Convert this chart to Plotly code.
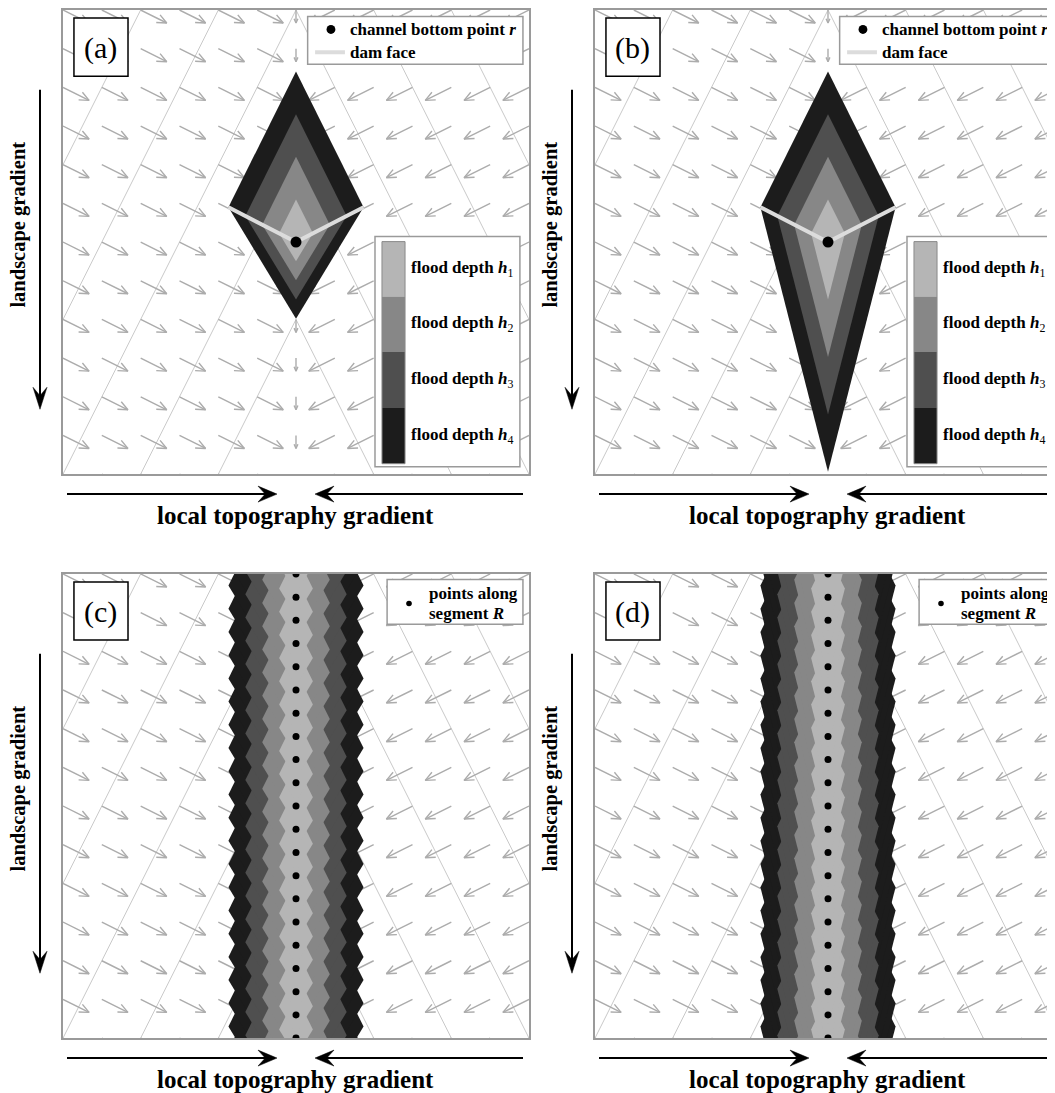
import math
import plotly.graph_objects as go

# ---------------- data (model units: each panel spans -1..1) ----------------
grid_ticks = [-1.0, -0.8333, -0.6667, -0.5, -0.3333, -0.1667, 0.0,
              0.1667, 0.3333, 0.5, 0.6667, 0.8333, 1.0]
flow_left = [0.112, -0.056]     # downhill vector west of the channel
flow_centre = [0.0, -0.056]     # downhill vector on the channel
flow_right = [-0.112, -0.056]   # downhill vector east of the channel
contour_levels = [-1.0, -0.3333, 0.3333, 1.0, 1.6667, 2.3333, 3.0]
contour_slope = 2.0

depth_names = ["1", "2", "3", "4"]
depth_scale = [0.25, 0.5, 0.75, 1.0]
depth_colors = ["#b5b5b5", "#878787", "#4f4f4f", "#1c1c1c"]

diamond_x = [0.0, 0.29, 0.0, -0.29]
diamond_y_a = [0.735, 0.15, -0.33, 0.15]
diamond_y_b = [0.735, 0.15, -0.99, 0.15]
dam_x = [-0.29, 0.0, 0.29]
dam_y = [0.15, 0.0, 0.15]
channel_point = [0.0, 0.0]
# points along segment R (the segment continues below the frame)
segment_R_y = [-1.5, -1.4, -1.3, -1.2, -1.1,
               -1.0, -0.9, -0.8, -0.7, -0.6, -0.5, -0.4, -0.3, -0.2, -0.1, 0.0,
               0.1, 0.2, 0.3, 0.4, 0.5, 0.6, 0.7, 0.8, 0.9, 1.0]
panel_letters = ["(a)", "(b)", "(c)", "(d)"]

# ---------------- layout constants (page pixels) ----------------
OFF = 8                      # default body margin of the html page
PAGE_W, PAGE_H = 1055, 1093
W, H = PAGE_W - OFF, PAGE_H - OFF
UNIT = 233.0
PANEL = 466
FONT = "Liberation Serif, Times New Roman, serif"
GRID_GREY = "#c9c9c9"
ARROW_GREY = "#acacac"
BORDER = "#9a9a9a"

panels = [
    dict(sfx="", left=63, top=8, kind="point", dy=diamond_y_a),
    dict(sfx="2", left=595, top=8, kind="point", dy=diamond_y_b),
    dict(sfx="3", left=63, top=573, kind="segment", dy=diamond_y_a),
    dict(sfx="4", left=595, top=573, kind="segment", dy=diamond_y_b),
]

fig = go.Figure()
shapes = []
annotations = []


def contour_xy():
    xs, ys = [], []
    for c in contour_levels:
        s_lo = max(0.0, (c - 1.0) / contour_slope)
        s_hi = min(1.0, (c + 1.0) / contour_slope)
        if s_hi - s_lo < 1e-6:
            continue
        if s_lo <= 0.0:
            xs += [-s_hi, 0.0, s_hi, None]
            ys += [c - contour_slope * s_hi, c, c - contour_slope * s_hi, None]
        else:
            for sg in (-1, 1):
                xs += [sg * s_lo, sg * s_hi, None]
                ys += [c - contour_slope * s_lo, c - contour_slope * s_hi, None]
    return xs, ys


def quiver_xy():
    xs, ys = [], []
    ang = math.radians(24)
    for gx in grid_ticks:
        for gy in grid_ticks:
            if gx < -1e-9:
                u, v = flow_left
            elif gx > 1e-9:
                u, v = flow_right
            else:
                u, v = flow_centre
            hx, hy = gx + u, gy + v
            L = math.hypot(u, v)
            dx, dy = u / L, v / L
            hl = 0.36 * L
            xs += [gx, hx, None]
            ys += [gy, hy, None]
            b = []
            for a in (ang, -ang):
                rx = dx * math.cos(a) - dy * math.sin(a)
                ry = dx * math.sin(a) + dy * math.cos(a)
                b.append((hx - hl * rx, hy - hl * ry))
            xs += [b[0][0], hx, b[1][0], None]
            ys += [b[0][1], hy, b[1][1], None]
    return xs, ys


cx, cy = contour_xy()
qx, qy = quiver_xy()


def ppx(px):
    return (px - OFF) / W


def ppy(py):
    return 1 - (py - OFF) / H


def gradient_arrow(tail, head, length, half):
    """Black line with a barbed head, as paper-referenced shapes (page px in)."""
    tx, ty = tail
    hx, hy = head
    L = math.hypot(hx - tx, hy - ty)
    dx, dy = (hx - tx) / L, (hy - ty) / L
    nx, ny = -dy, dx
    notch = (hx - 0.62 * length * dx, hy - 0.62 * length * dy)
    b1 = (hx - length * dx + half * nx, hy - length * dy + half * ny)
    b2 = (hx - length * dx - half * nx, hy - length * dy - half * ny)
    shapes.append(dict(type="line", xref="paper", yref="paper",
                       x0=ppx(tx), y0=ppy(ty), x1=ppx(notch[0] + 0.5 * dx), y1=ppy(notch[1] + 0.5 * dy),
                       line=dict(color="black", width=2)))
    pts = [head, b1, notch, b2]
    path = "M " + " L ".join("%.5f,%.5f" % (ppx(a), ppy(b)) for a, b in pts) + " Z"
    shapes.append(dict(type="path", xref="paper", yref="paper", path=path,
                       fillcolor="black", line=dict(color="black", width=0.5)))


for i, p in enumerate(panels):
    sfx = p["sfx"]
    xa, ya = "x" + sfx, "y" + sfx
    right_px = min(p["left"] + PANEL, PAGE_W)
    xr = [-1.0, -1.0 + (right_px - p["left"]) / UNIT]
    right_visible = p["left"] + PANEL <= PAGE_W
    fig.update_layout(**{
        "xaxis" + sfx: dict(domain=[ppx(p["left"]), min(1.0, ppx(right_px))], range=xr,
                            anchor=ya, showgrid=False, zeroline=False,
                            showticklabels=False, ticks="", showline=True,
                            linecolor=BORDER, linewidth=1.5, mirror=True,
                            fixedrange=True),
        "yaxis" + sfx: dict(domain=[ppy(p["top"] + 465), ppy(p["top"])], range=[-1, 1],
                            anchor=xa, showgrid=False, zeroline=False,
                            showticklabels=False, ticks="", showline=True,
                            linecolor=BORDER, linewidth=1.5,
                            mirror=right_visible, fixedrange=True),
    })

    # terrain contours and downhill field
    fig.add_trace(go.Scatter(x=cx, y=cy, mode="lines", xaxis=xa, yaxis=ya,
                             line=dict(color=GRID_GREY, width=1), hoverinfo="skip"))
    fig.add_trace(go.Scatter(x=qx, y=qy, mode="lines", xaxis=xa, yaxis=ya,
                             line=dict(color=ARROW_GREY, width=1.4), hoverinfo="skip"))

    # flood depths, outermost first
    centres = [channel_point[1]] if p["kind"] == "point" else segment_R_y
    for k in range(len(depth_scale) - 1, -1, -1):
        s = depth_scale[k]
        for yc in centres:
            px_ = [channel_point[0] + s * v for v in diamond_x] + [channel_point[0] + s * diamond_x[0]]
            py_ = [yc + s * v for v in p["dy"]] + [yc + s * p["dy"][0]]
            fig.add_trace(go.Scatter(x=px_, y=py_, mode="lines", fill="toself",
                                     fillcolor=depth_colors[k], xaxis=xa, yaxis=ya,
                                     line=dict(width=0, color=depth_colors[k]),
                                     hoverinfo="skip"))

    if p["kind"] == "point":
        fig.add_trace(go.Scatter(x=dam_x, y=dam_y, mode="lines", xaxis=xa, yaxis=ya,
                                 line=dict(color="#dcdcdc", width=4), hoverinfo="skip"))
        fig.add_trace(go.Scatter(x=[channel_point[0]], y=[channel_point[1]], mode="markers",
                                 xaxis=xa, yaxis=ya, marker=dict(color="black", size=11),
                                 hoverinfo="skip"))
    else:
        fig.add_trace(go.Scatter(x=[0.0] * len(segment_R_y), y=segment_R_y, mode="markers",
                                 xaxis=xa, yaxis=ya, marker=dict(color="black", size=7),
                                 hoverinfo="skip"))

    # panel letter box
    shapes.append(dict(type="rect", xref=xa, yref=ya, x0=-0.953, x1=-0.721, y0=0.715, y1=0.965,
                       fillcolor="white", line=dict(color="black", width=1.5), layer="above"))
    annotations.append(dict(xref=xa, yref=ya, x=-0.837, y=0.838, text=panel_letters[i],
                            xanchor="center", yanchor="middle",
                            showarrow=False, font=dict(family=FONT, size=30, color="black")))

    lf = dict(family=FONT, size=17, color="black")
    if p["kind"] == "point":
        # top legend
        shapes.append(dict(type="rect", xref=xa, yref=ya, x0=0.05, x1=0.974, y0=0.766, y1=0.972,
                           fillcolor="white", line=dict(color=BORDER, width=1.5), layer="above"))
        shapes.append(dict(type="circle", xref=xa, yref=ya, x0=0.131, x1=0.169, y0=0.897, y1=0.935,
                           fillcolor="black", line=dict(width=0), layer="above"))
        shapes.append(dict(type="line", xref=xa, yref=ya, x0=0.082, x1=0.21, y0=0.818, y1=0.818,
                           line=dict(color="#dcdcdc", width=4), layer="above"))
        annotations.append(dict(xref=xa, yref=ya, x=0.223, y=0.916, xanchor="left", yanchor="middle",
                                text="<b>channel bottom point <i>r</i></b>",
                                showarrow=False, font=lf))
        annotations.append(dict(xref=xa, yref=ya, x=0.223, y=0.818, xanchor="left", yanchor="middle",
                                text="<b>dam face</b>", showarrow=False, font=lf))
        # flood depth legend
        shapes.append(dict(type="rect", xref=xa, yref=ya, x0=0.339, x1=0.961, y0=-0.968, y1=0.024,
                           fillcolor="white", line=dict(color=BORDER, width=1.5), layer="above"))
        bounds = [0.002, -0.234, -0.474, -0.715, -0.955]
        for k in range(4):
            shapes.append(dict(type="rect", xref=xa, yref=ya, x0=0.369, x1=0.468,
                               y0=bounds[k + 1], y1=bounds[k], fillcolor=depth_colors[k],
                               line=dict(width=0), layer="above"))
            annotations.append(dict(xref=xa, yref=ya, x=0.486, y=(bounds[k] + bounds[k + 1]) / 2,
                                    xanchor="left", yanchor="middle",
                                    text="<b>flood depth <i>h</i></b><sub>" + depth_names[k] + "</sub>",
                                    showarrow=False, font=lf))
        shapes.append(dict(type="rect", xref=xa, yref=ya, x0=0.369, x1=0.468, y0=bounds[4], y1=bounds[0],
                           fillcolor="rgba(0,0,0,0)", line=dict(color="#8a8a8a", width=1), layer="above"))
    else:
        shapes.append(dict(type="rect", xref=xa, yref=ya, x0=0.391, x1=0.974, y0=0.783, y1=0.976,
                           fillcolor="white", line=dict(color=BORDER, width=1.5), layer="above"))
        shapes.append(dict(type="circle", xref=xa, yref=ya, x0=0.473, x1=0.497, y0=0.861, y1=0.885,
                           fillcolor="black", line=dict(width=0), layer="above"))
        annotations.append(dict(xref=xa, yref=ya, x=0.562, y=0.916, xanchor="left", yanchor="middle",
                                text="<b>points along</b>", showarrow=False, font=lf))
        annotations.append(dict(xref=xa, yref=ya, x=0.562, y=0.83, xanchor="left", yanchor="middle",
                                text="<b>segment <i>R</i></b>", showarrow=False, font=lf))

    # outer labels and gradient arrows
    ox, oy = p["left"] - 63, p["top"] - 8
    annotations.append(dict(xref="paper", yref="paper", x=ppx(19 + ox), y=ppy(223 + oy),
                            xanchor="center", yanchor="middle",
                            text="<b>landscape gradient</b>", textangle=-90, showarrow=False,
                            font=dict(family=FONT, size=20.5, color="black")))
    annotations.append(dict(xref="paper", yref="paper", x=ppx(295 + ox), y=ppy(514 + oy),
                            xanchor="center", yanchor="middle",
                            text="<b>local topography gradient</b>", showarrow=False,
                            font=dict(family=FONT, size=25, color="black")))
    gradient_arrow((40 + ox, 88 + oy), (40 + ox, 408 + oy), 22, 7)
    gradient_arrow((67 + ox, 493 + oy), (277 + ox, 493 + oy), 19, 8)
    gradient_arrow((min(523 + ox, PAGE_W + 2), 493 + oy), (315 + ox, 493 + oy), 19, 8)

fig.update_layout(width=W, height=H, margin=dict(l=0, r=0, t=0, b=0),
                  paper_bgcolor="white", plot_bgcolor="white", showlegend=False,
                  shapes=shapes, annotations=annotations)

fig.write_html("out.html")
